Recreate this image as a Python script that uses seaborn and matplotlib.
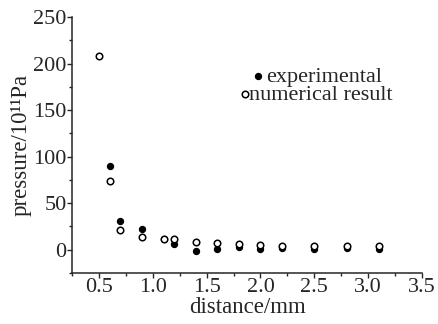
"""
Pressure vs distance: experimental and numerical result
"""

import pandas as pd
import matplotlib
matplotlib.use("Agg")
import matplotlib.pyplot as plt
import seaborn as sns
from matplotlib.ticker import MultipleLocator

# data
num_distance = [0.5, 0.6, 0.7, 0.9, 1.1, 1.2, 1.4, 1.6, 1.8, 2.0, 2.2, 2.5, 2.8, 3.1]
num_pressure = [208, 74, 21, 14, 12, 11, 8, 7.5, 6.5, 5, 4.5, 4, 4, 4]

exp_distance = [0.6, 0.7, 0.9, 1.1, 1.2, 1.4, 1.6, 1.8, 2.0, 2.2, 2.5, 2.8, 3.1]
exp_pressure = [90, 31, 22, 12, 6, -1, 0.5, 2.5, 1, 2, 0.5, 2, 0.5]

x_ticks = [0.5, 1.0, 1.5, 2.0, 2.5, 3.0, 3.5]
y_ticks = [0, 50, 100, 150, 200, 250]

sns.set_style("ticks")
plt.rcParams['font.family'] = ['Liberation Serif', 'DejaVu Serif']

df_num = pd.DataFrame({'distance': num_distance, 'pressure': num_pressure})
df_exp = pd.DataFrame({'distance': exp_distance, 'pressure': exp_pressure})

W, H = 438, 324
fig = plt.figure(figsize=(W / 100, H / 100), dpi=100)
ax = fig.add_axes([72 / W, 1 - 273 / H, 350 / W, 256 / H])

sns.scatterplot(data=df_exp, x='distance', y='pressure', ax=ax, marker='o',
                s=20, color='black', edgecolor='black', linewidth=0.8,
                label='experimental')
sns.scatterplot(data=df_num, x='distance', y='pressure', ax=ax, marker='o',
                s=22, facecolor='white', edgecolor='black', linewidth=1.1,
                label='numerical result')

ax.set_xlim(0.25, 3.5)
ax.set_ylim(-25, 250)
ax.set_xticks(x_ticks)
ax.set_yticks(y_ticks)
ax.set_xticklabels([f'{v:.1f}' for v in x_ticks])
ax.xaxis.set_minor_locator(MultipleLocator(0.25))
ax.yaxis.set_minor_locator(MultipleLocator(25))
ax.tick_params(axis='both', which='major', length=3.5, width=1, labelsize=16, pad=0.5)
ax.tick_params(axis='x', which='major', pad=0)
ax.tick_params(axis='both', which='minor', length=2, width=1)
sns.despine(ax=ax)
for s in ['left', 'bottom']:
    ax.spines[s].set_linewidth(1.1)

ax.set_xlabel('distance/mm', fontsize=16.5, labelpad=0)
ax.set_ylabel('pressure/10¹¹Pa', fontsize=16.5, labelpad=1)

# two stacked legend rows, slightly staggered like the original
handles, labels = ax.get_legend_handles_labels()
ax.get_legend().remove()
leg1 = fig.legend([handles[0]], [labels[0]], loc='center left',
                  bbox_to_anchor=(253.5 / W, 1 - 77 / H), frameon=False,
                  fontsize=16, handlelength=0.4, handletextpad=0.15,
                  borderpad=0, borderaxespad=0)
leg2 = fig.legend([handles[1]], [labels[1]], loc='center left',
                  bbox_to_anchor=(240.5 / W, 1 - 95 / H), frameon=False,
                  fontsize=16, handlelength=0.4, handletextpad=0.0,
                  borderpad=0, borderaxespad=0)

plt.savefig('out.png', dpi=100)
